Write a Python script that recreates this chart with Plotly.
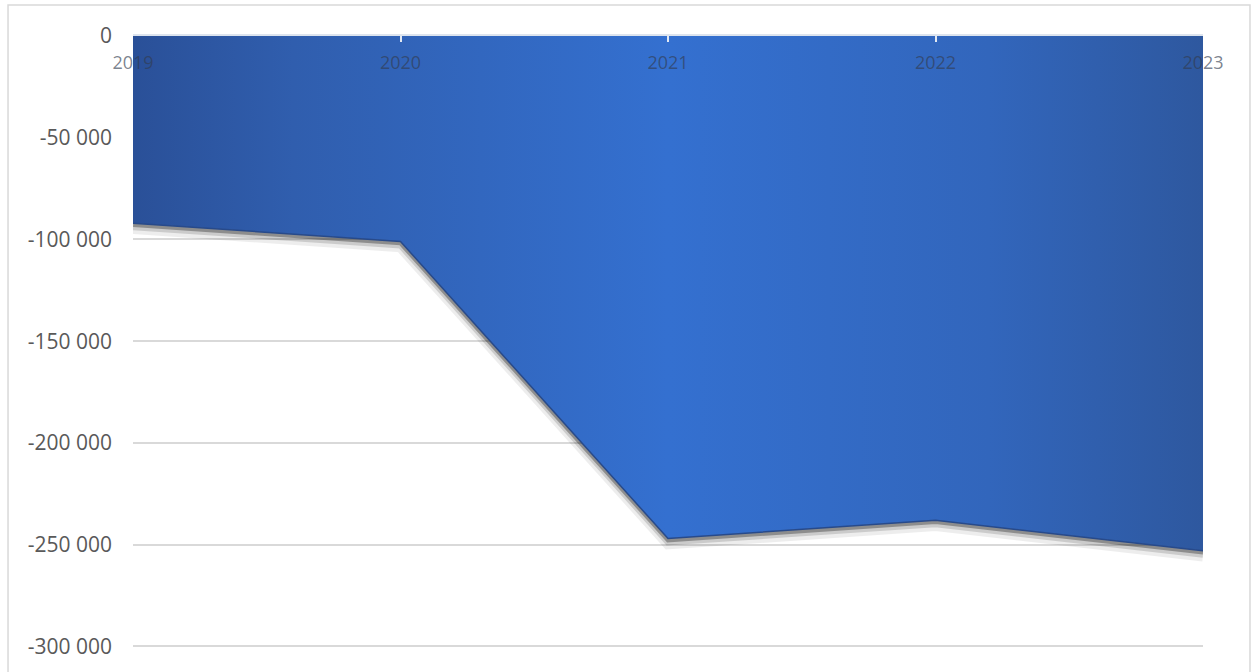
import plotly.graph_objects as go

years = [2019, 2020, 2021, 2022, 2023]
year_labels = ["2019", "2020", "2021", "2022", "2023"]
values = [-92000, -101000, -247000, -238000, -253000]
y_ticks = [0, -50000, -100000, -150000, -200000, -250000, -300000]
y_tick_labels = ["0", "-50 000", "-100 000", "-150 000", "-200 000", "-250 000", "-300 000"]

fig = go.Figure()

# soft drop shadow under the lower edge
for off, w, a in [(2600, 11, 0.07), (1700, 7, 0.14), (900, 4, 0.30)]:
    fig.add_trace(go.Scatter(
        x=years, y=[v - off for v in values], mode="lines",
        line=dict(color=f"rgba(0,0,0,{a})", width=w),
        hoverinfo="skip", showlegend=False,
    ))

fig.add_trace(go.Scatter(
    x=years, y=values, mode="lines", fill="tozeroy",
    line=dict(color="#284a8a", width=1.5),
    fillgradient=dict(type="horizontal", colorscale=[
        [0.0, "#2a5098"], [0.15, "#305eae"], [0.5, "#3470d0"],
        [0.8, "#3266bc"], [1.0, "#2e589f"]]),
    showlegend=False,
))

fig.update_layout(
    width=1253, height=672,
    margin=dict(l=133, r=50, t=36, b=24),
    paper_bgcolor="white", plot_bgcolor="white",
    font=dict(family="Open Sans", color="#595959"),
    xaxis=dict(
        side="top", range=[2019, 2023], tickvals=years, ticktext=year_labels,
        ticklabelposition="inside", ticklabeloverflow="allow",
        ticks="inside", ticklen=6, tickcolor="#e3e9f3", tickwidth=1.5,
        ticklabelstandoff=15,
        showline=True, linecolor="#dde4ee", linewidth=2,
        showgrid=False, zeroline=False,
        tickfont=dict(size=18, color="rgba(50,60,80,0.65)"),
    ),
    yaxis=dict(
        range=[-300800, 0], tickvals=y_ticks, ticktext=y_tick_labels,
        showgrid=True, gridcolor="#d9d9d9", gridwidth=1.5,
        zeroline=False, showline=False, ticks="",
        ticklabelstandoff=20,
        tickfont=dict(size=21, color="#595959"),
    ),
    shapes=[dict(type="rect", xref="paper", yref="paper",
                 x0=-0.1168, x1=1.0439, y0=-0.09, y1=1.0507,
                 line=dict(color="#d9d9d9", width=1.5), layer="below")],
)

fig.write_html("out.html")
